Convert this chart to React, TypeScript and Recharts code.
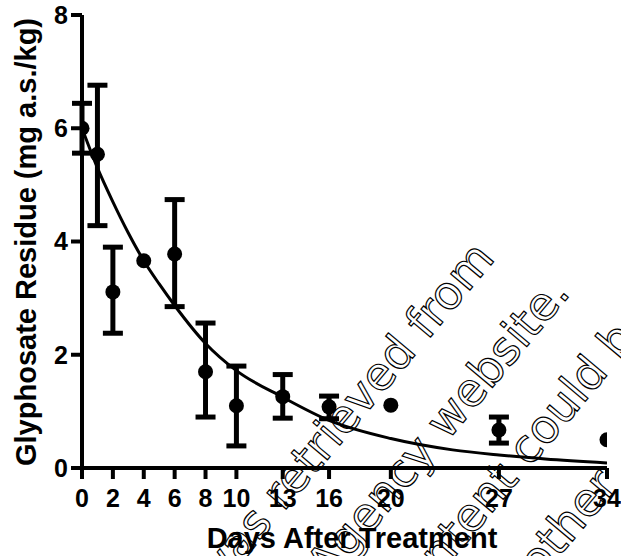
import { ComposedChart, Line, Scatter, XAxis, YAxis, ErrorBar } from 'recharts';

const days = [0, 1, 2, 4, 6, 8, 10, 13, 16, 20, 27, 34];
const residue = [6.0, 5.54, 3.11, 3.66, 3.78, 1.7, 1.1, 1.26, 1.08, 1.11, 0.67, 0.5];
const lowerBound = [5.56, 4.28, 2.38, null, 2.85, 0.9, 0.39, 0.88, 0.87, null, 0.44, null];
const upperBound = [6.44, 6.76, 3.9, null, 4.74, 2.56, 1.8, 1.65, 1.27, null, 0.9, null];

// fitted decay curve
const fitDays = [0, 1, 2, 3, 4, 5, 6, 8, 10, 13, 16, 20, 24, 27, 30, 34];
const fitResidue = [6.0, 5.3, 4.7, 4.15, 3.66, 3.25, 2.87, 2.2, 1.72, 1.25, 0.84, 0.52, 0.32, 0.23, 0.16, 0.09];

const xTicks = [0, 2, 4, 6, 8, 10, 13, 16, 20, 27, 34];
const yTicks = [0, 2, 4, 6, 8];

const watermark = ['was retrieved from', 'Agency website.', 'content could be', 'other'];

const withErr = days
  .map((d, i) => ({
    day: d,
    value: residue[i],
    err: lowerBound[i] == null ? null : [residue[i] - (lowerBound[i] as number), (upperBound[i] as number) - residue[i]],
  }))
  .filter((p) => p.err != null);

const noErr = days
  .map((d, i) => ({ day: d, value: residue[i], lo: lowerBound[i] }))
  .filter((p) => p.lo == null);

const curve = fitDays.map((d, i) => ({ day: d, fit: fitResidue[i] }));

const font = '"Liberation Sans", Arial, sans-serif';
const tickStyle = { fontFamily: font, fontWeight: 'bold', fontSize: 25, fill: '#000' };

const dot = (p: any) => <circle cx={p.cx} cy={p.cy} r={7.5} fill="#000" />;

export default function App() {
  return (
    <div style={{ position: 'relative', width: 621, height: 556, background: '#fff' }}>
      <style>{`body{margin:0}`}</style>
      <ComposedChart width={621} height={556} margin={{ top: 15, right: 14, left: 0, bottom: 0 }}>
        <XAxis
          type="number"
          dataKey="day"
          domain={[0, 34]}
          ticks={xTicks}
          interval={0}
          allowDataOverflow
          height={88}
          tickSize={11}
          tickMargin={10}
          tick={tickStyle}
          axisLine={{ stroke: '#000', strokeWidth: 4 }}
          tickLine={{ stroke: '#000', strokeWidth: 4 }}
          label={{
            content: () => (
              <text x={352} y={548} textAnchor="middle" style={{ ...tickStyle, fontSize: 29 }}>
                Days After Treatment
              </text>
            ),
          }}
        />
        <YAxis
          type="number"
          domain={[0, 8]}
          ticks={yTicks}
          interval={0}
          width={82}
          tickSize={11}
          tickMargin={3}
          tick={tickStyle}
          axisLine={{ stroke: '#000', strokeWidth: 4 }}
          tickLine={{ stroke: '#000', strokeWidth: 4 }}
          label={{
            content: () => (
              <text
                x={36}
                y={242}
                transform="rotate(-90 36 242)"
                textAnchor="middle"
                style={{ ...tickStyle, fontSize: 29 }}
              >
                Glyphosate Residue (mg a.s./kg)
              </text>
            ),
          }}
        />
        <Line
          data={curve}
          dataKey="fit"
          type="monotone"
          stroke="#000"
          strokeWidth={3}
          dot={false}
          activeDot={false}
          isAnimationActive={false}
        />
        <Scatter data={withErr} dataKey="value" fill="#000" shape={dot} isAnimationActive={false}>
          <ErrorBar dataKey="err" direction="y" width={10} strokeWidth={5} stroke="#000" />
        </Scatter>
        <Scatter data={noErr} dataKey="value" fill="#000" shape={dot} isAnimationActive={false} />
      </ComposedChart>
      <svg width={621} height={556} style={{ position: 'absolute', left: 0, top: 0, pointerEvents: 'none' }}>
        <g transform="translate(496 259) rotate(-50)">
          {watermark.map((t, i) => (
            <text
              key={t}
              x={[0, 22, 58, -95][i]}
              y={i * 80}
              textAnchor="end"
              fill="none"
              stroke="#000"
              strokeWidth={1.2}
              style={{ fontFamily: '"DejaVu Sans", sans-serif', fontSize: 46 }}
            >
              {t}
            </text>
          ))}
        </g>
      </svg>
    </div>
  );
}
